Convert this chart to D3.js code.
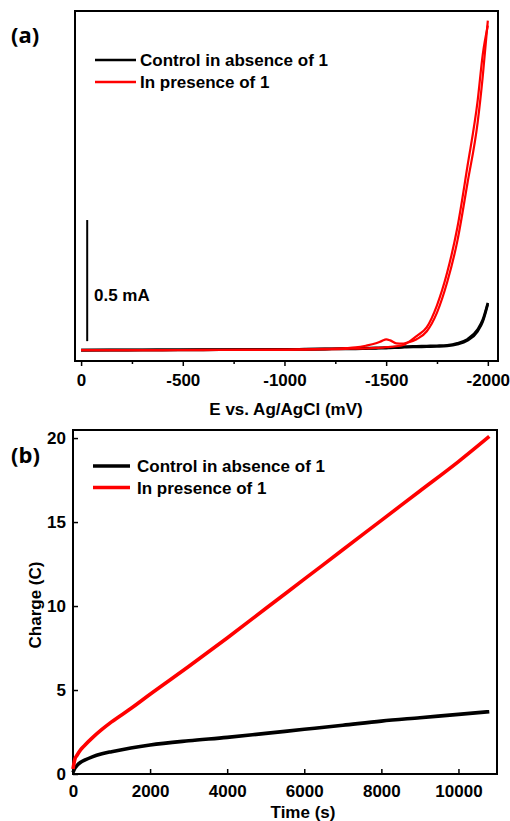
<!DOCTYPE html>
<html>
<head>
<meta charset="utf-8">
<script src="https://cdn.jsdelivr.net/npm/d3@7"></script>
<style>
  body { margin: 0; background: #fff; }
  svg { display: block; }
  text { font-family: "Liberation Sans", Arial, sans-serif; font-weight: bold; fill: #000; }
  .panel { font-family: "Open Sans", "Liberation Sans", sans-serif; font-size: 22px; }
</style>
</head>
<body>
<script>
// (a) potential sweep, E in mV, current in mA
const cvE      = [0, -200, -400, -600, -800, -1000, -1100, -1200, -1300, -1350, -1400, -1450, -1480, -1500, -1520, -1550, -1580, -1600, -1650, -1700, -1750, -1800, -1850, -1900, -1950, -1975, -2000];
const redFwd   = [0, 0, 0, 0.001, 0.001, 0.002, 0.003, 0.005, 0.008, 0.011, 0.018, 0.028, 0.038, 0.044, 0.040, 0.028, 0.027, 0.030, 0.045, 0.078, 0.155, 0.280, 0.450, 0.690, 0.940, 1.130, 1.360];
const redRev   = [0, 0, 0, 0, 0.001, 0.001, 0.002, 0.003, 0.005, 0.006, 0.007, 0.009, 0.010, 0.012, 0.013, 0.016, 0.020, 0.028, 0.058, 0.095, 0.185, 0.320, 0.505, 0.760, 1.030, 1.220, 1.340];
const blackFwd = [0, 0.001, 0.001, 0.002, 0.002, 0.003, 0.004, 0.005, 0.006, 0.007, 0.008, 0.009, 0.010, 0.011, 0.012, 0.013, 0.014, 0.015, 0.016, 0.017, 0.018, 0.020, 0.028, 0.045, 0.085, 0.125, 0.195];
const blackRev = [0, 0, 0.001, 0.001, 0.002, 0.002, 0.003, 0.004, 0.005, 0.005, 0.006, 0.007, 0.008, 0.008, 0.009, 0.010, 0.011, 0.012, 0.013, 0.014, 0.015, 0.017, 0.024, 0.040, 0.078, 0.118, 0.190];
const eTicks = [0, -500, -1000, -1500, -2000];
const eMinor = [-250, -750, -1250, -1750];

// (b) charge vs time
const time   = [0, 50, 100, 200, 300, 500, 750, 1000, 1500, 2000, 3000, 4000, 5000, 6000, 7000, 8000, 9000, 10000, 10800];
const qRed   = [0.3, 0.9, 1.1, 1.45, 1.7, 2.15, 2.65, 3.1, 3.9, 4.75, 6.4, 8.1, 9.85, 11.6, 13.35, 15.1, 16.85, 18.6, 20.1];
const qBlack = [0.1, 0.35, 0.5, 0.7, 0.82, 1.02, 1.2, 1.33, 1.55, 1.73, 1.98, 2.18, 2.42, 2.66, 2.9, 3.15, 3.35, 3.55, 3.71];
const tTicks = [0, 2000, 4000, 6000, 8000, 10000];
const qTicks = [0, 5, 10, 15, 20];

const legendNames = ['Control in absence of 1', 'In presence of 1'];
const colors = ['#000000', '#ff0000'];

const svg = d3.select('body').append('svg').attr('width', 510).attr('height', 821);

// ---------- panel (a)
const xA = d3.scaleLinear().domain([30, -2050]).range([75, 498]);
const yA = d3.scaleLinear().domain([-0.045, 1.40]).range([361, 11]);

const ga = svg.append('g');
ga.append('rect').attr('x', 75).attr('y', 11).attr('width', 423).attr('height', 350)
  .attr('fill', 'none').attr('stroke', '#000').attr('stroke-width', 2);

const axA = ga.append('g').attr('transform', 'translate(0,361)')
  .call(d3.axisBottom(xA).tickValues(eTicks).tickSize(5).tickPadding(8).tickFormat(d3.format('d')));
ga.append('g').attr('transform', 'translate(0,361)')
  .call(d3.axisBottom(xA).tickValues(eMinor).tickSize(3).tickFormat(''))
  .call(g => g.select('.domain').remove());
ga.selectAll('.tick line').attr('stroke-width', 1.5);
axA.select('.domain').remove();
axA.selectAll('text').style('font-size', '17px').style('font-family', '"Liberation Sans", Arial, sans-serif').style('font-weight', 'bold')
  .text(d => String(d));

ga.append('text').attr('x', 286).attr('y', 415).attr('text-anchor', 'middle').style('font-size', '17px')
  .text('E vs. Ag/AgCl (mV)');

const lineA = vals => d3.line().x((d, i) => xA(cvE[i])).y(d => yA(d)).curve(d3.curveMonotoneX)(vals);
ga.append('path').attr('d', lineA(blackRev)).attr('fill', 'none').attr('stroke', '#000').attr('stroke-width', 2.6);
ga.append('path').attr('d', lineA(blackFwd)).attr('fill', 'none').attr('stroke', '#000').attr('stroke-width', 2.6);
ga.append('path').attr('d', lineA(redRev)).attr('fill', 'none').attr('stroke', '#ff0000').attr('stroke-width', 2.2);
ga.append('path').attr('d', lineA(redFwd)).attr('fill', 'none').attr('stroke', '#ff0000').attr('stroke-width', 2.2);

// scale bar 0.5 mA
ga.append('line').attr('x1', xA(-30)).attr('x2', xA(-30)).attr('y1', yA(0.037)).attr('y2', yA(0.537))
  .attr('stroke', '#000').attr('stroke-width', 2);
ga.append('text').attr('x', 94).attr('y', 301).style('font-size', '17px').text('0.5 mA');

ga.append('text').attr('class', 'panel').attr('x', 11).attr('y', 43).text('(a)');

// legend (a)
legendNames.forEach((name, i) => {
  const y = 60 + i * 22;
  ga.append('line').attr('x1', 95).attr('x2', 136).attr('y1', y).attr('y2', y)
    .attr('stroke', colors[i]).attr('stroke-width', 2.5);
  ga.append('text').attr('x', 140).attr('y', y + 6).style('font-size', '17px').text(name);
});

// ---------- panel (b)
const xB = d3.scaleLinear().domain([0, 11000]).range([73, 497]);
const yB = d3.scaleLinear().domain([0, 20.48]).range([774, 430]);

const gb = svg.append('g');
gb.append('rect').attr('x', 73).attr('y', 430).attr('width', 424).attr('height', 344)
  .attr('fill', 'none').attr('stroke', '#000').attr('stroke-width', 2);

const axBx = gb.append('g').attr('transform', 'translate(0,774)')
  .call(d3.axisBottom(xB).tickValues(tTicks).tickSize(-5).tickPadding(6).tickFormat(d3.format('d')));
const axBy = gb.append('g').attr('transform', 'translate(73,0)')
  .call(d3.axisLeft(yB).tickValues(qTicks).tickSize(-5).tickPadding(7).tickFormat(d3.format('d')));
[axBx, axBy].forEach(a => {
  a.select('.domain').remove();
  a.selectAll('.tick line').attr('stroke-width', 1.5);
  a.selectAll('text').style('font-size', '17px').style('font-family', '"Liberation Sans", Arial, sans-serif').style('font-weight', 'bold');
});
axBx.selectAll('text').attr('dy', '1.0em');

gb.append('text').attr('x', 303).attr('y', 818).attr('text-anchor', 'middle').style('font-size', '17px').text('Time (s)');
gb.append('text').attr('transform', 'translate(41,605) rotate(-90)').attr('text-anchor', 'middle')
  .style('font-size', '17px').text('Charge (C)');

const lineB = vals => d3.line().x((d, i) => xB(time[i])).y(d => yB(d)).curve(d3.curveMonotoneX)(vals);
gb.append('path').attr('d', lineB(qBlack)).attr('fill', 'none').attr('stroke', '#000').attr('stroke-width', 3.6);
gb.append('path').attr('d', lineB(qRed)).attr('fill', 'none').attr('stroke', '#ff0000').attr('stroke-width', 3.6);

gb.append('text').attr('class', 'panel').attr('x', 11).attr('y', 463).text('(b)');

legendNames.forEach((name, i) => {
  const y = 466 + i * 21.5;
  gb.append('line').attr('x1', 93).attr('x2', 130).attr('y1', y).attr('y2', y)
    .attr('stroke', colors[i]).attr('stroke-width', 3.6);
  gb.append('text').attr('x', 137).attr('y', y + 6).style('font-size', '17px').text(name);
});
</script>
</body>
</html>
